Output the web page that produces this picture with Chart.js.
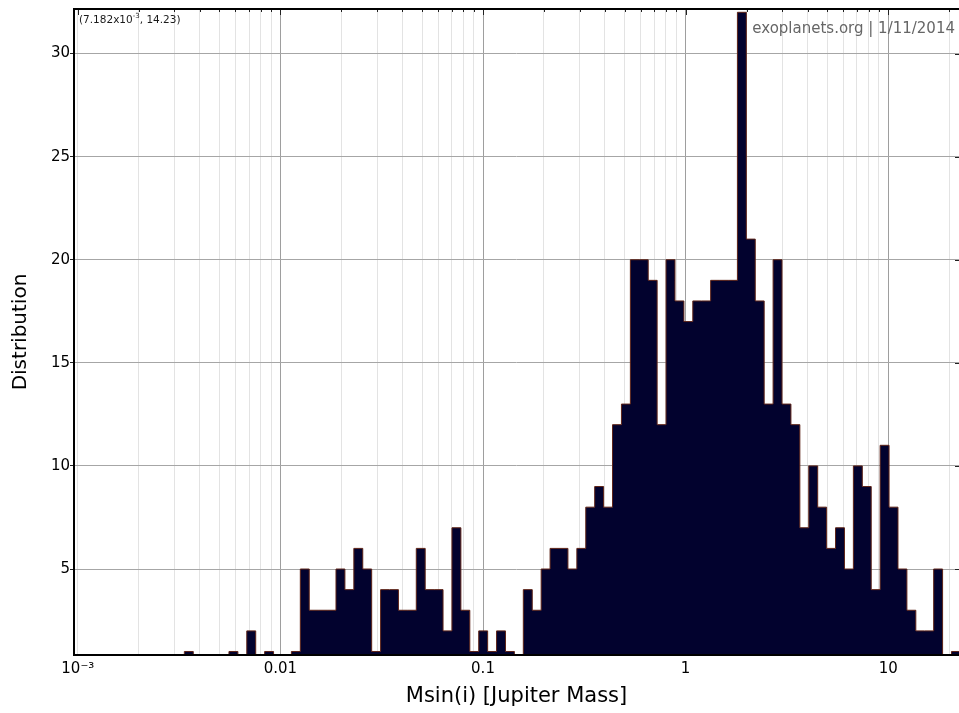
<!DOCTYPE html>
<html>
<head>
<meta charset="utf-8">
<title>Exoplanet mass distribution</title>
<script src="https://cdn.jsdelivr.net/npm/chart.js@4.4.1/dist/chart.umd.min.js"></script>
<style>
  html, body { margin: 0; padding: 0; background: #ffffff; }
  #wrap { position: relative; width: 959px; height: 713px; }
</style>
</head>
<body>
<div id="wrap"><canvas id="chart"></canvas></div>
<script>
// Histogram of planet minimum masses Msin(i), equal-width bins in log10(M / M_Jup)
const binLogStart = -2.4741;   // log10 of the first bin's lower edge
const binLogWidth = 0.04403;   // bin width in decades
const counts = [
  1, 0, 0, 0, 0, 1, 0, 2, 0, 1, 0, 0, 1, 5, 3, 3, 3, 5, 4, 6,
  5, 1, 4, 4, 3, 3, 6, 4, 4, 2, 7, 3, 1, 2, 1, 2, 1, 0, 4, 3,
  5, 6, 6, 5, 6, 8, 9, 8, 12, 13, 20, 20, 19, 12, 20, 18, 17, 18, 18, 19,
  19, 19, 32, 21, 18, 13, 20, 13, 12, 7, 10, 8, 6, 7, 5, 10, 9, 4, 11, 8,
  5, 3, 2, 2, 5, 0, 1
];

// Axis ticks and labels
const xMajorTicks = [0.001, 0.01, 0.1, 1, 10];
const xTickLabels = ['10\u207B\u00B3', '0.01', '0.1', '1', '10'];
const yTicks = [5, 10, 15, 20, 25, 30];
const yTickLabels = ['5', '10', '15', '20', '25', '30'];

// Axis ranges
const xRange = [Math.pow(10, -3.0188), Math.pow(10, 1.3495)];
const yRange = [0.83, 32.16];

// Annotation texts
const cursorReadout = { pre: '(7.182x10', sup: '-3', post: ', 14.23)' };
const creditText = 'exoplanets.org | 1/11/2014';

// Step outline points: left edge of every bin, closed back to zero at both ends
const histPoints = [{ x: Math.pow(10, binLogStart), y: 0 }];
counts.forEach((c, i) => {
  histPoints.push({ x: Math.pow(10, binLogStart + i * binLogWidth), y: c });
});
histPoints.push({ x: Math.pow(10, binLogStart + counts.length * binLogWidth), y: 0 });

// Minor log ticks 1..9 x 10^k between the major ticks
const xAllTicks = [];
xMajorTicks.forEach((m, k) => {
  for (let d = 1; d <= 9; d++) {
    const v = m * d;
    if (k === xMajorTicks.length - 1 && d > 2) break;
    xAllTicks.push(v);
  }
});

function majorIndex(v) {
  for (let i = 0; i < xMajorTicks.length; i++) {
    if (Math.abs(v / xMajorTicks[i] - 1) < 1e-6) return i;
  }
  return -1;
}

const FONT = "'DejaVu Sans', Verdana, sans-serif";

const framePlugin = {
  id: 'frame',
  afterDatasetsDraw(chart) {
    const { ctx, chartArea: a, scales } = chart;
    const x = scales.x, y = scales.y;
    ctx.save();
    // short tick marks along the top edge
    ctx.strokeStyle = '#222';
    ctx.lineWidth = 1;
    x.ticks.forEach(t => {
      const px = Math.round(x.getPixelForValue(t.value)) + 0.5;
      if (px < a.left + 2 || px > a.right) return;
      const len = majorIndex(t.value) >= 0 ? 6 : 3;
      ctx.beginPath();
      ctx.moveTo(px, a.top);
      ctx.lineTo(px, a.top + len);
      ctx.stroke();
    });
    // short tick marks along the right edge
    y.ticks.forEach(t => {
      const py = Math.round(y.getPixelForValue(t.value)) + 0.5;
      ctx.beginPath();
      ctx.moveTo(a.right - 4, py);
      ctx.lineTo(a.right, py);
      ctx.stroke();
    });
    // frame
    ctx.strokeStyle = '#000';
    ctx.lineWidth = 2;
    ctx.beginPath();
    ctx.moveTo(a.left, a.bottom);
    ctx.lineTo(a.left, a.top);
    ctx.lineTo(a.right, a.top);
    ctx.stroke();
    ctx.beginPath();
    ctx.moveTo(a.left - 1, a.bottom);
    ctx.lineTo(a.right, a.bottom);
    ctx.stroke();
    ctx.restore();
  },
  afterDraw(chart) {
    const { ctx, chartArea: a } = chart;
    ctx.save();
    // cursor readout, top left
    ctx.fillStyle = '#1a1a1a';
    ctx.textBaseline = 'alphabetic';
    ctx.textAlign = 'left';
    ctx.font = '10.5px ' + FONT;
    let tx = a.left + 5;
    const ty = a.top + 14;
    ctx.fillText(cursorReadout.pre, tx, ty);
    tx += ctx.measureText(cursorReadout.pre).width;
    ctx.font = '7px ' + FONT;
    ctx.fillText(cursorReadout.sup, tx, ty - 5);
    tx += ctx.measureText(cursorReadout.sup).width;
    ctx.font = '10.5px ' + FONT;
    ctx.fillText(cursorReadout.post, tx, ty);
    // source credit, top right
    ctx.fillStyle = '#666';
    ctx.font = '15px ' + FONT;
    ctx.textAlign = 'right';
    ctx.fillText(creditText, a.right - 4, a.top + 24);
    ctx.restore();
  }
};

new Chart(document.getElementById('chart'), {
  type: 'line',
  data: {
    datasets: [{
      data: histPoints,
      stepped: true,
      fill: 'start',
      backgroundColor: '#02022e',
      borderColor: '#5e2418',
      borderWidth: 1,
      pointRadius: 0,
      tension: 0
    }]
  },
  options: {
    responsive: true,
    maintainAspectRatio: false,
    animation: false,
    events: [],
    layout: { padding: { top: 9, right: 0, bottom: 0, left: 0 } },
    plugins: { legend: { display: false }, tooltip: { enabled: false } },
    scales: {
      x: {
        type: 'logarithmic',
        min: xRange[0],
        max: xRange[1],
        afterBuildTicks: scale => { scale.ticks = xAllTicks.map(v => ({ value: v })); },
        afterFit: scale => { scale.height = 58; },
        border: { display: false },
        grid: {
          drawTicks: false,
          lineWidth: 1,
          color: ctx => {
            const i = majorIndex(ctx.tick.value);
            if (i > 0) return '#9e9e9e';
            return '#e3e3e3';
          }
        },
        ticks: {
          autoSkip: false,
          maxRotation: 0,
          padding: 5,
          color: '#000',
          font: { family: FONT, size: 15 },
          callback: value => {
            const i = majorIndex(value);
            return i >= 0 ? xTickLabels[i] : '';
          }
        },
        title: {
          display: true,
          text: 'Msin(i) [Jupiter Mass]',
          color: '#000',
          font: { family: FONT, size: 21 },
          padding: { top: 0, bottom: 4 }
        }
      },
      y: {
        type: 'linear',
        min: yRange[0],
        max: yRange[1],
        afterBuildTicks: scale => { scale.ticks = yTicks.map(v => ({ value: v })); },
        afterFit: scale => { scale.width = 74; },
        border: { display: false },
        grid: {
          color: '#a6a6a6',
          lineWidth: 1,
          drawTicks: true,
          tickLength: 4,
          tickColor: '#222'
        },
        ticks: {
          padding: 0,
          color: '#000',
          font: { family: FONT, size: 15 },
          callback: value => {
            const i = yTicks.indexOf(value);
            return i >= 0 ? yTickLabels[i] : '';
          }
        },
        title: {
          display: true,
          text: 'Distribution',
          color: '#000',
          font: { family: FONT, size: 20 },
          padding: { top: 9, bottom: 0 }
        }
      }
    }
  },
  plugins: [framePlugin]
});
</script>
</body>
</html>
